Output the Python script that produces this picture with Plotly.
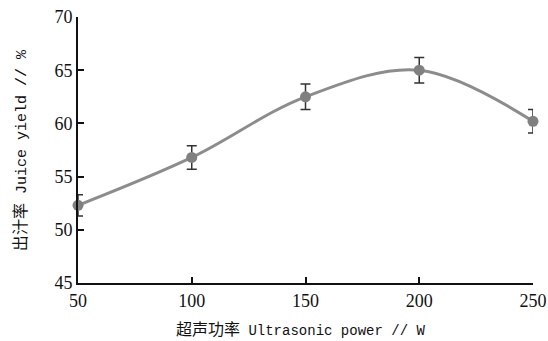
import plotly.graph_objects as go

power = [50, 100, 150, 200, 250]
juice_yield = [52.3, 56.8, 62.5, 65.0, 60.2]
err = [1.0, 1.1, 1.2, 1.2, 1.1]
x_ticks = [50, 100, 150, 200, 250]
y_ticks = [45, 50, 55, 60, 65, 70]

fig = go.Figure()
fig.add_trace(go.Scatter(
    x=power, y=juice_yield,
    mode="lines+markers",
    line=dict(color="#8c8c8c", width=3, shape="spline", smoothing=1.0),
    marker=dict(color="#808080", size=11),
    error_y=dict(type="data", array=err, visible=True, color="#333333", thickness=1.5, width=5),
    cliponaxis=False,
    showlegend=False,
))

tick_font = dict(family="Liberation Serif, serif", size=18, color="#111111")
common = dict(ticks="inside", ticklen=6, tickwidth=1.5, tickcolor="#111111",
              showline=True, linecolor="#111111", linewidth=2, showgrid=False,
              zeroline=False, tickfont=tick_font, mirror=False, automargin=False)
fig.update_xaxes(range=[50, 250], tickvals=x_ticks, **common)
fig.update_yaxes(range=[45, 70], tickvals=y_ticks, **common)

fam = "Liberation Mono, Noto Sans CJK SC, monospace"
fig.add_annotation(
    text="<span style='font-size:16px'>超声功率</span> Ultrasonic power // W",
    xref="paper", yref="paper", x=0.488, y=-0.177, xanchor="center", yanchor="middle",
    showarrow=False, font=dict(family=fam, size=14, color="#111111"))
fig.add_annotation(
    text="<span style='font-size:16px'>出汁率</span> Juice yield // %",
    xref="paper", yref="paper", x=-0.125, y=0.5, xanchor="center", yanchor="middle",
    showarrow=False, textangle=-90, font=dict(family=fam, size=15, color="#111111"))

fig.update_layout(
    width=548, height=341,
    margin=dict(l=78, r=15, t=17, b=58),
    paper_bgcolor="white", plot_bgcolor="white",
)
fig.write_html("out.html")
